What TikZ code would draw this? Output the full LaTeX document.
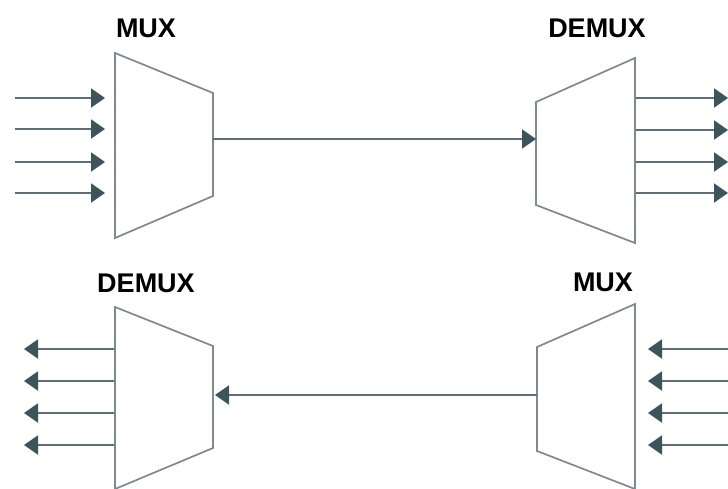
\documentclass[tikz,border=0pt]{standalone}
\usepackage{fontspec}
\setmainfont{Liberation Sans}
\usetikzlibrary{arrows.meta}
\definecolor{boxline}{HTML}{7D8A90}
\definecolor{wire}{HTML}{5E6E76}
\definecolor{head}{HTML}{3E545D}
\tikzset{
  unit/.style={draw=boxline, line width=1.7pt, fill=white, line join=miter},
  wirearrow/.style={draw=wire, line width=2pt, -{Triangle[length=14pt,width=19pt,fill=head,color=head]}},
  lbl/.style={font=\bfseries\fontsize{27}{27}\selectfont, text=black, inner sep=0pt}
}
\begin{document}
\begin{tikzpicture}[x=1pt,y=-1pt]
\useasboundingbox (0,0) rectangle (728,488);
\clip (0,0) rectangle (728,488);
% ---- top MUX ----
\coordinate (m1tl) at (115,53);
\coordinate (m1tr) at (213,93);
\coordinate (m1br) at (213,196);
\coordinate (m1bl) at (115,238);
\draw[unit] (m1tl) -- (m1tr) -- (m1br) -- (m1bl) -- cycle;
\node[lbl] (m1lbl) at (146,28) {MUX};
\coordinate (m1out) at (213,139);
% ---- top DEMUX ----
\coordinate (d1tl) at (536,102);
\coordinate (d1tr) at (635,58);
\coordinate (d1br) at (635,243);
\coordinate (d1bl) at (536,205);
\draw[unit] (d1tl) -- (d1tr) -- (d1br) -- (d1bl) -- cycle;
\node[lbl] (d1lbl) at (597,28) {DEMUX};
\coordinate (d1in) at (536,139);
\draw[wirearrow] (m1out) -- (d1in);
% inputs of top MUX
\foreach \y [count=\i] in {98,129,162,193}{
  \coordinate (in\i s) at (15,\y);
  \coordinate (in\i e) at (105,\y);
  \draw[wirearrow] (in\i s) -- (in\i e);
}
% outputs of top DEMUX
\foreach \y [count=\i] in {98,130,162,193}{
  \coordinate (out\i s) at (636,\y);
  \coordinate (out\i e) at (728,\y);
  \draw[wirearrow] (out\i s) -- (out\i e);
}
% ---- bottom DEMUX ----
\coordinate (d2tl) at (115,307);
\coordinate (d2tr) at (213,346);
\coordinate (d2br) at (213,448);
\coordinate (d2bl) at (115,489);
\draw[unit] (d2tl) -- (d2tr) -- (d2br) -- (d2bl) -- cycle;
\node[lbl] (d2lbl) at (146,283) {DEMUX};
\coordinate (d2in) at (215,395);
% ---- bottom MUX ----
\coordinate (m2tl) at (537,347);
\coordinate (m2tr) at (635,304);
\coordinate (m2br) at (635,489);
\coordinate (m2bl) at (537,451);
\draw[unit] (m2tl) -- (m2tr) -- (m2br) -- (m2bl) -- cycle;
\node[lbl] (m2lbl) at (603,282) {MUX};
\coordinate (m2out) at (537,395);
\draw[wirearrow] (m2out) -- (d2in);
% outputs of bottom DEMUX
\foreach \y [count=\i] in {349,381,413,445}{
  \coordinate (bo\i s) at (114,\y);
  \coordinate (bo\i e) at (24,\y);
  \draw[wirearrow] (bo\i s) -- (bo\i e);
}
% inputs of bottom MUX
\foreach \y [count=\i] in {349,381,413,445}{
  \coordinate (bi\i s) at (728,\y);
  \coordinate (bi\i e) at (648,\y);
  \draw[wirearrow] (bi\i s) -- (bi\i e);
}
\end{tikzpicture}
\end{document}
